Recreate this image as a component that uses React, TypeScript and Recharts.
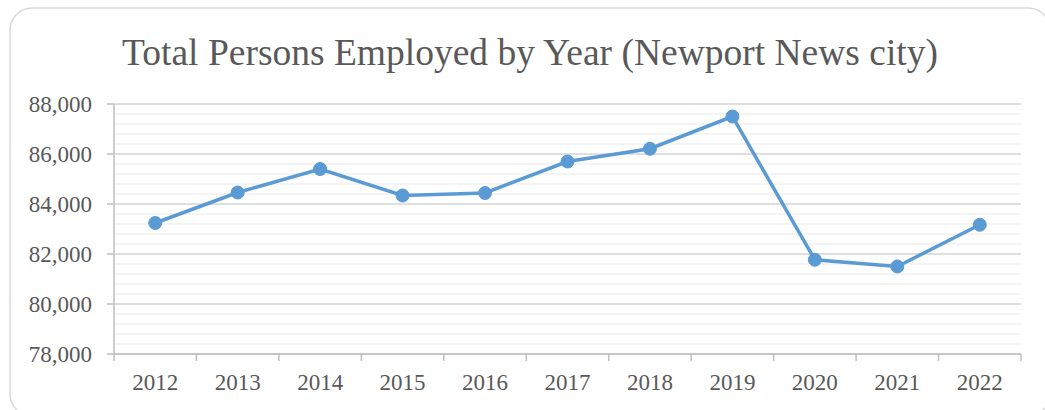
import { LineChart, Line, XAxis, YAxis, CartesianGrid } from 'recharts';

const years = [2012, 2013, 2014, 2015, 2016, 2017, 2018, 2019, 2020, 2021, 2022];
const employed = [83240, 84460, 85400, 84340, 84440, 85700, 86210, 87500, 81770, 81500, 83170];
const yTicks = [78000, 80000, 82000, 84000, 86000, 88000];
const minorStep = 400;

const data = years.map((year, i) => ({ year, employed: employed[i] }));

// minor gridlines between the labelled ones
const minorValues: number[] = [];
for (let v = yTicks[0]; v <= yTicks[yTicks.length - 1]; v += minorStep) minorValues.push(v);

// ticks at band edges (tick marks) and band centers (labels)
const xTicks: number[] = [years[0] - 0.5];
years.forEach((y) => {
  xTicks.push(y, y + 0.5);
});

const textColor = '#595959';
const axisColor = '#bfbfbf';
const font = '"Liberation Serif", "Times New Roman", serif';

function YearTick(props: any) {
  const { x, y, payload } = props;
  const v = payload.value;
  if (Number.isInteger(v)) {
    return (
      <text x={x} y={y + 28} textAnchor="middle" dominantBaseline="central" fill={textColor} fontSize={23} fontFamily={font}>
        {v}
      </text>
    );
  }
  return <line x1={x} x2={x} y1={y} y2={y + 7} stroke={axisColor} strokeWidth={1.5} />;
}

export default function App() {
  return (
    <div style={{ position: 'absolute', left: 0, top: 0, width: 1045, height: 410, background: '#fff', overflow: 'hidden' }}>
      <style>{'body{margin:0}'}</style>
      <svg width={1045} height={410} style={{ position: 'absolute', left: 0, top: 0 }}>
        <rect x={10} y={8} width={1040} height={408} rx={22} ry={22} fill="#fff" stroke="#d9d9d9" strokeWidth={1.5} />
        <text x={530} y={65} textAnchor="middle" fill={textColor} fontSize={37.5} fontFamily={font}>
          Total Persons Employed by Year (Newport News city)
        </text>
      </svg>
      <div style={{ position: 'absolute', left: 0, top: 0 }}>
        <LineChart width={1045} height={410} data={data} margin={{ top: 104, right: 24, bottom: 16, left: 14 }}>
          <CartesianGrid vertical={false} horizontalValues={minorValues} stroke="#f0f0f0" strokeWidth={1.5} />
          <CartesianGrid vertical={false} horizontalValues={yTicks} stroke="#d9d9d9" strokeWidth={1.5} />
          <XAxis
            dataKey="year"
            type="number"
            domain={[years[0] - 0.5, years[years.length - 1] + 0.5]}
            ticks={xTicks}
            interval={0}
            height={40}
            tickSize={0}
            tickMargin={0}
            tickLine={false}
            axisLine={{ stroke: axisColor, strokeWidth: 1.5 }}
            tick={<YearTick />}
          />
          <YAxis
            domain={[yTicks[0], yTicks[yTicks.length - 1]]}
            ticks={yTicks}
            interval={0}
            width={100}
            tickSize={7}
            tickMargin={15}
            tickLine={{ stroke: axisColor, strokeWidth: 1.5 }}
            axisLine={{ stroke: axisColor, strokeWidth: 1.5 }}
            tick={{ fill: textColor, fontSize: 23, fontFamily: font }}
            tickFormatter={(v: number) => v.toLocaleString('en-US')}
          />
          <Line
            dataKey="employed"
            stroke="#5b9bd5"
            strokeWidth={3.5}
            dot={{ r: 6.5, fill: '#5b9bd5', stroke: '#5b9bd5', strokeWidth: 1 }}
            isAnimationActive={false}
          />
        </LineChart>
      </div>
    </div>
  );
}
